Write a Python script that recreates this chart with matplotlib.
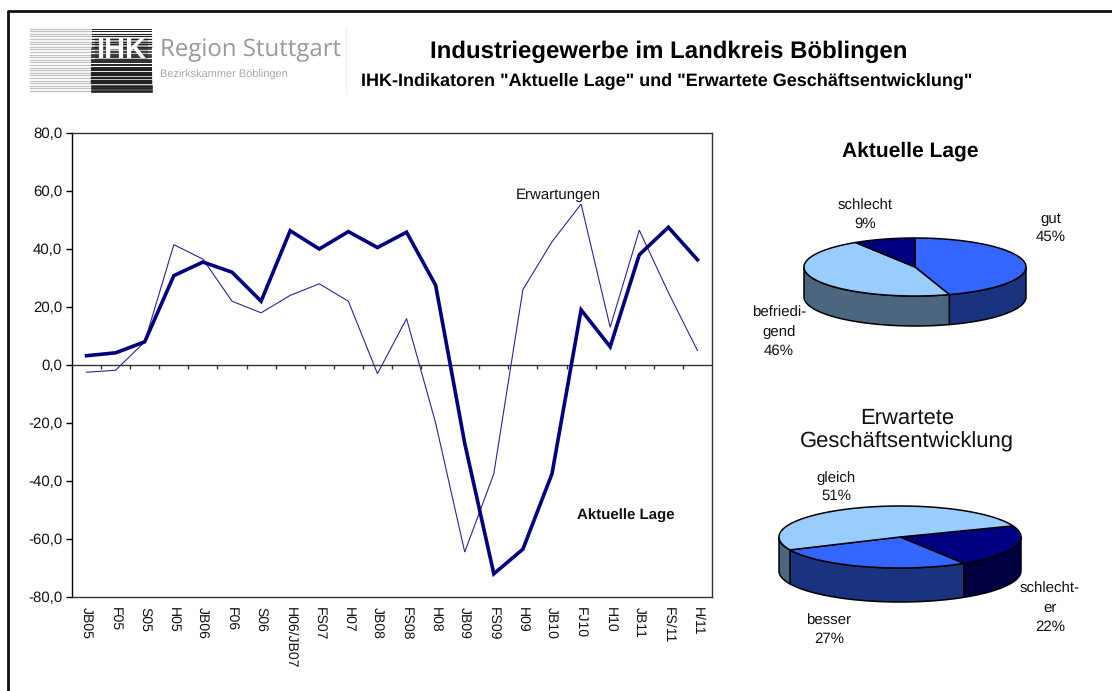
import numpy as np
import matplotlib
matplotlib.use('Agg')
import matplotlib.pyplot as plt
from matplotlib.lines import Line2D
from matplotlib.patches import Polygon, Rectangle

plt.rcParams['font.family'] = ['Liberation Sans', 'DejaVu Sans']
plt.rcParams['text.hinting'] = 'no_hinting'
plt.rcParams['text.hinting_factor'] = 1

W, H = 1112, 691

# Daten
perioden = ['JB05', 'F05', 'S05', 'H05', 'JB06', 'F06', 'S06', 'H06/JB07', 'FS07', 'H07', 'JB08',
            'FS08', 'H08', 'JB09', 'FS09', 'H09', 'JB10', 'FJ10', 'H10', 'JB11', 'FS/11', 'H/11']
aktuelle_lage = [3.2, 4.2, 8.0, 30.8, 35.5, 32.0, 22.0, 46.3, 40.0, 46.0, 40.5,
                 45.8, 27.5, -27.0, -72.0, -63.5, -37.5, 19.0, 6.3, 38.0, 47.5, 36.3]
erwartungen = [-2.5, -1.8, 8.0, 41.5, 36.5, 22.0, 18.0, 24.0, 28.0, 22.0, -3.0,
               16.0, -20.0, -64.5, -37.5, 26.0, 42.5, 55.5, 13.0, 46.5, 25.0, 5.0]
y_ticks = [80, 60, 40, 20, 0, -20, -40, -60, -80]

lage_werte = [45, 46, 9]
lage_farben = ['#3366ff', '#99ccff', '#000080']
lage_seiten = ['#1a337f', '#4d6680', '#000040']

erw_werte = [22, 27, 51]
erw_farben = ['#000080', '#3366ff', '#99ccff']
erw_seiten = ['#000040', '#1a337f', '#4d6680']


def px_axes(x0, y0, x1, y1):
    # Achse ueber Pixelkoordinaten (y von oben)
    return fig.add_axes([x0 / W, 1 - y1 / H, (x1 - x0) / W, (y1 - y0) / H])


def torte_3d(cx, cy, a, b, tiefe, werte, farben, seiten, start):
    ax = px_axes(cx - a - 2, cy - b - 2, cx + a + 2, cy + b + tiefe + 2)
    ax.set_xlim(-a - 2, a + 2)
    ax.set_ylim(-b - tiefe - 2, b + 2)
    ax.axis('off')
    grenzen = start - np.cumsum([0] + werte) * 3.6
    for i in range(len(werte)):
        t = np.radians(np.linspace(grenzen[i], grenzen[i + 1], 200))
        x = a * np.cos(t)
        y = b * np.sin(t)
        # Seitenflaeche nur in der unteren Haelfte sichtbar
        unten = y <= 0
        if unten.any():
            xs = x[unten]
            ys = y[unten]
            if np.diff(np.where(unten)[0]).max(initial=1) > 1:
                # Bereich laeuft ueber den Rand des Arrays, neu sortieren
                o = np.argsort(xs)
                xs, ys = xs[o], ys[o]
            rand = np.r_[np.c_[xs, ys], np.c_[xs, ys - tiefe][::-1]]
            ax.add_patch(Polygon(rand, closed=True, fc=seiten[i], ec='black', lw=1.1, joinstyle='round'))
        ax.add_patch(Polygon(np.r_[[[0, 0]], np.c_[x, y]], closed=True, fc=farben[i], ec='black', lw=1.1,
                             joinstyle='round'))


fig = plt.figure(figsize=(W / 100, H / 100), dpi=100, facecolor='white')

# Rahmen oben und links
fig.add_artist(Line2D([7.5 / W, 7.5 / W, 1], [0, 1 - 10.5 / H, 1 - 10.5 / H], color='#111111', lw=2.0))

# Logo
logo = px_axes(0, 0, W, H)
logo.set_xlim(0, W)
logo.set_ylim(H, 0)
logo.axis('off')
logo.patch.set_alpha(0)
for i, y in enumerate(np.arange(28.5, 92, 2.6)):
    logo.plot([30, 92], [y, y], color='#c4c4c4', lw=0.9)
    logo.plot([92, 151], [y, y], color='#222222', lw=0.7 + 0.05 * i)
logo.add_patch(Rectangle((95, 38), 53, 23, fc='#777777', ec='none', alpha=0.45))
logo.text(121.5, 50, 'IHK', color='white', fontsize=21, fontweight='bold', ha='center', va='center')
logo.text(160, 50.5, 'Region Stuttgart', color='#999999', fontsize=17.3, ha='left', va='center',
          family=['Open Sans', 'DejaVu Sans'])
logo.text(160, 75, 'Bezirkskammer Böblingen', color='#a8a8a8', fontsize=7.6, ha='left', va='center')
logo.plot([346, 346], [28, 92], color='#eeeeee', lw=0.8)

# Ueberschriften
logo.text(669, 52, 'Industriegewerbe im Landkreis Böblingen', fontsize=17.4, fontweight='bold',
          ha='center', va='center', color='black')
logo.text(667, 81, 'IHK-Indikatoren "Aktuelle Lage" und "Erwartete Geschäftsentwicklung"', fontsize=12.9,
          fontweight='bold', ha='center', va='center', color='black')

# Liniendiagramm
ax = px_axes(72, 133, 712, 597)
x = np.arange(len(perioden))
ax.plot(x, erwartungen, color='#28288f', lw=0.8, solid_joinstyle='miter')
ax.plot(x, aktuelle_lage, color='#000080', lw=2.6, solid_joinstyle='miter')
ax.set_xlim(-0.5, len(perioden) - 0.5)
ax.set_ylim(-80, 80)
ax.set_yticks(y_ticks)
ax.set_yticklabels([f'{v:.1f}'.replace('.', ',') for v in y_ticks], fontsize=10.8, color='#111111')
ax.tick_params(axis='y', length=4, width=1, pad=3)
ax.set_xticks(x)
ax.set_xticklabels(perioden, rotation=-90, fontsize=10.3, color='#111111', ha='center', va='top')
ax.tick_params(axis='x', length=0, pad=7)
for s in ax.spines.values():
    s.set_linewidth(1)
    s.set_color('#333333')
ax.spines['left'].set_color('black')
# Nulllinie mit Teilstrichen zwischen den Kategorien
ax.axhline(0, color='#333333', lw=1, zorder=1)
ax.vlines(x[:-1] + 0.5, -1.4, 0, color='#333333', lw=1, zorder=1)
ax.text(16.22, 58.7, 'Erwartungen', fontsize=10.8, ha='center', va='center', color='#111111')
ax.text(18.53, -52, 'Aktuelle Lage', fontsize=10.8, fontweight='bold', ha='center', va='center', color='#111111')

# Torten
logo.text(910.5, 151, 'Aktuelle Lage', fontsize=15.4, fontweight='bold', ha='center', va='center', color='black')
torte_3d(915, 267, 111, 29, 30, lage_werte, lage_farben, lage_seiten, 90)
pie_font = dict(fontsize=10.8, ha='center', va='center', linespacing=1.42, color='#111111')
logo.text(1051, 228, 'gut\n45%', **pie_font)
logo.text(865, 215, 'schlecht\n9%', **pie_font)
logo.text(779, 332, 'befriedi-\ngend\n46%', **pie_font)

logo.text(907, 430, 'Erwartete\nGeschäftsentwicklung', fontsize=15.8, ha='center', va='center', linespacing=1.15,
          color='#111111')
torte_3d(900, 537, 121, 31, 34, erw_werte, erw_farben, erw_seiten, 21)
logo.text(836, 487, 'gleich\n51%', **pie_font)
logo.text(829, 630, 'besser\n27%', **pie_font)
logo.text(1050, 608, 'schlecht-\ner\n22%', **pie_font)

fig.savefig('out.png', dpi=100)
